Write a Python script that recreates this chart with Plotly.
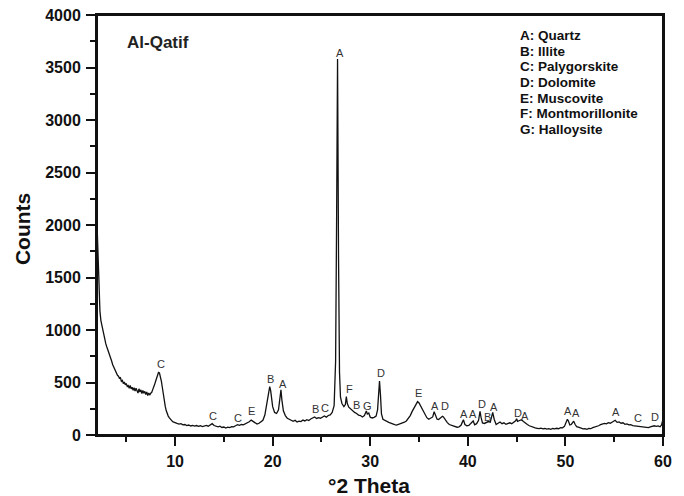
import plotly.graph_objects as go

# ---- diffraction pattern (°2θ, counts) ----
theta_low = [2.0, 2.05, 2.1, 2.2, 2.3, 2.4, 2.5, 2.6, 2.7, 2.8, 2.9,
             3.0, 3.1, 3.2, 3.3, 3.4, 3.5, 3.6, 3.7, 3.8, 3.9,
             4.0, 4.1, 4.2, 4.3, 4.4, 4.5, 4.6, 4.7, 4.8, 4.9,
             5.0, 5.1, 5.2, 5.3, 5.4, 5.5, 5.6, 5.7, 5.8, 5.9,
             6.0, 6.1, 6.2, 6.3, 6.4, 6.5, 6.6, 6.7, 6.8, 6.9,
             7.0, 7.1, 7.2, 7.3, 7.4, 7.5, 7.6, 7.7, 7.8, 7.9,
             8.0, 8.1, 8.2, 8.3, 8.4, 8.5, 8.6, 8.7, 8.8, 8.9,
             9.0, 9.1, 9.2, 9.3, 9.4, 9.5, 9.6, 9.7, 9.8, 9.9]
counts_low = [2020, 1850, 1650, 1380, 1180, 1090, 1040, 985, 940, 905, 870,
              840, 815, 790, 770, 728, 705, 672, 650, 628, 600,
              590, 568, 560, 540, 545, 512, 520, 490, 505, 478,
              490, 462, 470, 445, 472, 440, 455, 425, 450, 418,
              445, 428, 400, 440, 410, 430, 395, 425, 398, 415,
              385, 410, 375, 400, 380, 398, 405, 430, 450, 480,
              510, 545, 570, 595, 590, 560, 510, 450, 380, 320,
              270, 230, 200, 180, 165, 150, 140, 132, 125, 120]

theta_mid = [10.0, 10.2, 10.4, 10.6, 10.8, 11.0, 11.2, 11.4, 11.6, 11.8,
             12.0, 12.2, 12.4, 12.6, 12.8, 13.0, 13.2, 13.4, 13.6, 13.8,
             14.0, 14.2, 14.4, 14.6, 14.8, 15.0, 15.2, 15.4, 15.6, 15.8,
             16.0, 16.2, 16.4, 16.6, 16.8, 17.0, 17.2, 17.4, 17.6, 17.8,
             18.0, 18.2, 18.4, 18.6, 18.8, 19.0, 19.2, 19.4, 19.6, 19.7,
             19.8, 19.9, 20.0, 20.2, 20.4, 20.6, 20.75, 20.85, 20.95, 21.1,
             21.3, 21.5, 21.7, 21.9, 22.1, 22.3, 22.5, 22.7, 22.9, 23.1,
             23.3, 23.5, 23.7, 23.9, 24.1, 24.3, 24.5, 24.7, 24.9, 25.1,
             25.3, 25.5, 25.7, 25.9, 26.1, 26.3, 26.45, 26.55, 26.65, 26.75,
             26.85, 26.95, 27.1, 27.3, 27.45, 27.55, 27.65, 27.8, 28.0, 28.2,
             28.4, 28.6, 28.8, 29.0, 29.2, 29.4, 29.5, 29.6, 29.7, 29.85,
             30.0, 30.2, 30.4, 30.6, 30.75, 30.85, 30.95, 31.05, 31.15, 31.3,
             31.5, 31.7, 31.9, 32.1, 32.3, 32.5, 32.7, 32.9, 33.1, 33.3,
             33.5, 33.7, 33.9, 34.1, 34.3, 34.5, 34.7, 34.85, 35.0, 35.2,
             35.4, 35.6, 35.8, 36.0, 36.2, 36.4, 36.55, 36.7, 36.85, 37.0,
             37.2, 37.4, 37.5, 37.7, 37.9, 38.1, 38.3, 38.5, 38.7, 38.9,
             39.1, 39.3, 39.45, 39.55, 39.7, 39.9]
counts_mid = [118, 110, 104, 108, 96, 100, 90, 95, 86, 92,
              84, 90, 82, 88, 80, 86, 92, 84, 96, 108,
              90, 82, 78, 84, 72, 76, 66, 74, 70, 80,
              78, 88, 98, 92, 100, 96, 104, 112, 126, 142,
              128, 110, 104, 112, 122, 140, 190, 300, 420, 460,
              420, 330, 270, 215, 205, 240, 330, 430, 330, 230,
              185, 160, 150, 138, 130, 140, 124, 132, 128, 142,
              134, 146, 138, 152, 160, 172, 158, 166, 160, 175,
              182, 170, 186, 192, 215, 280, 700, 2000, 3580, 1700,
              600, 360, 300, 270, 290, 365, 300, 265, 245, 232,
              215, 205, 190, 185, 172, 185, 215, 228, 200, 210,
              170, 162, 168, 180, 240, 380, 515, 380, 200, 150,
              138, 128, 120, 114, 104, 98, 94, 100, 106, 112,
              122, 134, 155, 185, 225, 262, 300, 318, 305, 270,
              225, 190, 165, 150, 158, 172, 222, 190, 150, 148,
              160, 178, 172, 140, 118, 100, 92, 85, 80, 74,
              78, 92, 125, 145, 100, 88]

theta_high = [40.1, 40.3, 40.45, 40.55, 40.7, 40.9, 41.1, 41.2, 41.25, 41.35,
              41.5, 41.7, 41.9, 42.1, 42.3, 42.45, 42.55, 42.7, 42.9, 43.1,
              43.3, 43.5, 43.7, 43.9, 44.1, 44.3, 44.5, 44.7, 44.9, 45.0,
              45.1, 45.3, 45.5, 45.7, 45.9, 46.1, 46.3, 46.5, 46.7, 46.9,
              47.1, 47.3, 47.5, 47.7, 47.9, 48.1, 48.3, 48.5, 48.7, 48.9,
              49.1, 49.3, 49.5, 49.7, 49.9, 50.05, 50.2, 50.3, 50.45, 50.6,
              50.75, 50.85, 51.0, 51.15, 51.4, 51.6, 51.8, 52.0, 52.2, 52.4,
              52.6, 52.8, 53.0, 53.2, 53.4, 53.6, 53.8, 54.0, 54.2, 54.4,
              54.6, 54.8, 55.0, 55.1, 55.3, 55.5, 55.7, 55.9, 56.1, 56.3,
              56.5, 56.7, 56.9, 57.1, 57.3, 57.5, 57.7, 57.9, 58.1, 58.3,
              58.5, 58.7, 58.9, 59.1, 59.3, 59.5, 59.7, 59.85, 60.0]
counts_high = [92, 110, 128, 134, 98, 108, 140, 200, 225, 170,
               115, 110, 118, 128, 122, 190, 215, 150, 100, 112,
               124, 108, 116, 102, 110, 116, 108, 122, 135, 155,
               130, 138, 145, 128, 118, 100, 88, 80, 74, 68,
               64, 60, 66, 58, 62, 56, 60, 54, 62, 58,
               64, 60, 70, 68, 82, 110, 150, 135, 95, 100,
               128, 132, 100, 80, 72, 64, 58, 60, 54, 62,
               60, 70, 74, 82, 88, 98, 104, 110, 106, 118,
               112, 122, 132, 140, 120, 124, 112, 116, 102, 106,
               96, 98, 90, 88, 84, 86, 78, 82, 74, 76,
               70, 78, 84, 88, 82, 86, 78, 95, 150]

# ---- phase labels above the reflections ----
peak_letters = ["C", "C", "C", "E", "B", "A", "B", "C", "A", "F", "B", "G", "D",
                "E", "A", "D", "A", "A", "D", "B", "A", "D", "A", "A", "A", "A",
                "C", "D"]
peak_x = [8.54, 13.91, 16.40, 17.84, 19.76, 21.07, 24.35, 25.38, 26.85, 27.87,
          28.59, 29.69, 31.13, 34.99, 36.67, 37.70, 39.58, 40.53, 41.50, 42.01,
          42.69, 45.15, 45.84, 50.29, 51.08, 55.15, 57.47, 59.16]
peak_y = [673, 184, 165, 231, 530, 486, 248, 260, 3635, 435,
          286, 276, 593, 397, 276, 276, 197, 200, 295, 174,
          270, 212, 181, 231, 207, 222, 159, 174]

phase_key = ["A: Quartz", "B: Illite", "C: Palygorskite", "D: Dolomite",
             "E: Muscovite", "F: Montmorillonite", "G: Halloysite"]

sample_name = "Al-Qatif"
x_ticks = [10, 20, 30, 40, 50, 60]
y_ticks = [0, 500, 1000, 1500, 2000, 2500, 3000, 3500, 4000]

two_theta = theta_low + theta_mid + theta_high
counts = counts_low + counts_mid + counts_high

FONT = "Liberation Sans, Arial, sans-serif"

# page layout: the figure sits 8px in from the page corner
OFF = 8
W, H = 684, 496
PL, PR, PT, PB = 97, 663.5, 15, 435          # plot box in page pixels
L, T = PL - OFF, PT - OFF
R = W - (PR - OFF)
B = H - (PB - OFF)


def px_to_paper(px, py):
    return (px - PL) / (PR - PL), (PB - py) / (PB - PT)


fig = go.Figure()
fig.add_trace(go.Scatter(x=two_theta, y=counts, mode="lines",
                         line=dict(color="#111111", width=1.3),
                         showlegend=False, hoverinfo="skip"))

ann = []
for t, xv, yv in zip(peak_letters, peak_x, peak_y):
    ann.append(dict(x=xv, y=yv, text=t, showarrow=False, xref="x", yref="y",
                    xanchor="center", yanchor="middle",
                    font=dict(family=FONT, size=11, color="#333333")))

xp, yp = px_to_paper(125, 43)
ann.append(dict(x=xp, y=yp, text="<b>" + sample_name + "</b>", showarrow=False,
                xref="paper", yref="paper", xanchor="left", yanchor="middle",
                font=dict(family=FONT, size=17, color="#222222")))

for i, line in enumerate(phase_key):
    xp, yp = px_to_paper(518, 35.7 + i * 15.6)
    ann.append(dict(x=xp, y=yp, text="<b>" + line + "</b>", showarrow=False,
                    xref="paper", yref="paper", xanchor="left", yanchor="middle",
                    font=dict(family=FONT, size=13.5, color="#111111")))

xp, yp = px_to_paper(369, 485)
ann.append(dict(x=xp, y=yp, text="<b>°2 Theta</b>", showarrow=False,
                xref="paper", yref="paper", xanchor="center", yanchor="middle",
                font=dict(family=FONT, size=21, color="#111111")))
xp, yp = px_to_paper(22, 229)
ann.append(dict(x=xp, y=yp, text="<b>Counts</b>", showarrow=False, textangle=-90,
                xref="paper", yref="paper", xanchor="center", yanchor="middle",
                font=dict(family=FONT, size=21, color="#111111")))

axis_common = dict(
    ticks="outside", ticklen=9, tickwidth=1.5, tickcolor="#111111",
    showline=True, linecolor="#111111", linewidth=2, mirror=True,
    showgrid=False, zeroline=False, automargin=False,
    ticklabeloverflow="allow",
    tickfont=dict(family=FONT, size=16, color="#111111", weight="bold"),
)

fig.update_layout(
    width=W, height=H,
    margin=dict(l=L, r=R, t=T, b=B, autoexpand=False),
    paper_bgcolor="white", plot_bgcolor="white",
    annotations=ann,
    shapes=[dict(type="rect", xref="paper", yref="paper", x0=0, x1=1, y0=0, y1=1,
                 line=dict(color="#111111", width=2), layer="above")],
    xaxis=dict(range=[2, 60], tickmode="array", tickvals=x_ticks,
               ticktext=[str(v) for v in x_ticks], ticklabelstandoff=2,
               minor=dict(tickmode="array", tickvals=[5, 15, 25, 35, 45, 55],
                          ticks="outside", ticklen=5, tickwidth=1.5,
                          tickcolor="#111111", showgrid=False),
               **axis_common),
    yaxis=dict(range=[0, 4000], tickmode="array", tickvals=y_ticks,
               ticktext=[str(v) for v in y_ticks], ticklabelstandoff=2,
               minor=dict(tickmode="array",
                          tickvals=[250, 750, 1250, 1750, 2250, 2750, 3250, 3750],
                          ticks="outside", ticklen=5, tickwidth=1.5,
                          tickcolor="#111111", showgrid=False),
               **axis_common),
)

fig.write_html("out.html")
